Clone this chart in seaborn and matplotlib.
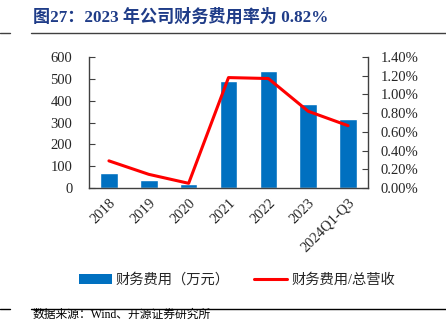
import matplotlib
matplotlib.use("Agg")
import matplotlib.pyplot as plt
import seaborn as sns
import pandas as pd
from matplotlib.ticker import FuncFormatter
from matplotlib.patches import Patch
from matplotlib.lines import Line2D

categories = ["2018", "2019", "2020", "2021", "2022", "2023", "2024Q1-Q3"]
expense = [67, 37, 17, 490, 538, 385, 316]
ratio = [0.29, 0.146, 0.05, 1.18, 1.17, 0.82, 0.666]
bar_label = "财务费用（万元）"
line_label = "财务费用/总营收"
title = "图27：2023 年公司财务费用率为 0.82%"
source = "数据来源：Wind、开源证券研究所"

sns.set_style("white")
plt.rcParams['font.family'] = ['Liberation Serif', 'Noto Sans CJK SC', 'DejaVu Sans']

df = pd.DataFrame({"cat": categories, "expense": expense, "ratio": ratio})

fig = plt.figure(figsize=(4.46, 3.22), dpi=100)
ax = fig.add_axes([89/446, 1-188/322, (368-89)/446, (188-57)/322])

sns.barplot(data=df, x="cat", y="expense", ax=ax, color="#0070C0",
            width=0.44, saturation=1)
ax.set_ylim(0, 600)
ax.set_yticks(range(0, 601, 100))
ax.set_xlim(-0.5, 6.5)
ax.set_xlabel("")
ax.set_ylabel("")

ax2 = ax.twinx()
sns.lineplot(data=df, x="cat", y="ratio", ax=ax2, color="#FF0000",
             linewidth=2.2, sort=False)
ax2.set_ylim(0, 1.4)
ax2.set_yticks([i * 0.2 for i in range(8)])
ax2.yaxis.set_major_formatter(FuncFormatter(lambda v, p: f"{v:.2f}%"))
ax2.set_ylabel("")
ax2.set_xlim(-0.5, 6.5)

for a in (ax, ax2):
    a.spines["top"].set_visible(False)
    for s in ("left", "right", "bottom"):
        a.spines[s].set_color("#404040")
        a.spines[s].set_linewidth(1.0)
ax.spines["right"].set_visible(False)
ax2.spines["left"].set_visible(False)
ax2.spines["bottom"].set_visible(False)

ax.tick_params(axis="y", direction="in", length=4, labelsize=10.5, pad=12, color="#404040")
ax2.tick_params(axis="y", direction="in", length=4, labelsize=10.5, pad=9, color="#404040")
ax.set_xticks(range(len(categories)))
ax.set_xticklabels(categories, rotation=45, ha="right", rotation_mode="anchor", fontsize=10.5)
ax.tick_params(axis="x", length=0, pad=6)
ax.set_xticks([i + 0.5 for i in range(-1, len(categories))], minor=True)
ax.tick_params(axis="x", which="minor", direction="in", length=4, color="#404040")

# Title and rules
fig.text(33/446, 1-17/322, title, fontsize=12.3, fontweight="bold", color="#1F3C88",
         va="center", ha="left")
fig.add_artist(Line2D([0, 10/446], [1-32.5/322]*2, color="#404040", lw=1))
fig.add_artist(Line2D([31/446, 1], [1-32.5/322]*2, color="#404040", lw=1))
fig.add_artist(Line2D([0, 10/446], [1-309/322]*2, color="#000000", lw=1))
fig.add_artist(Line2D([31/446, 1], [1-309/322]*2, color="#000000", lw=1))
fig.text(33/446, 1/322, source, fontsize=8.5, color="#000000", va="bottom", ha="left")

handles = [Patch(facecolor="#0070C0", edgecolor="none"),
           Line2D([0], [0], color="#FF0000", lw=2.2)]
fig.legend(handles, [bar_label, line_label], loc="center",
           bbox_to_anchor=(237/446, 1-280/322), ncol=2, frameon=False, fontsize=10.3,
           handlelength=2.3, handleheight=0.7, columnspacing=1.7, handletextpad=0.3)

fig.savefig("out.png", dpi=100)
